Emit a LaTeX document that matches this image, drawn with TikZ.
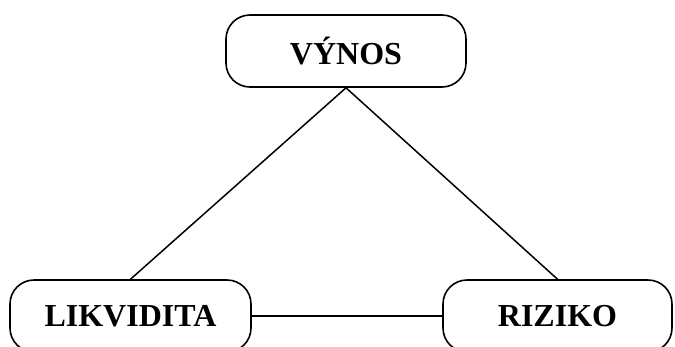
\documentclass[tikz,border=0pt]{standalone}
\usepackage{fontspec}
\setmainfont{Liberation Serif}
\begin{document}
\begin{tikzpicture}[x=1pt,y=-1pt,
  box/.style={draw, line width=1.6pt, rounded corners=24pt, inner sep=0pt,
    font=\fontsize{32}{36}\selectfont\bfseries, minimum height=72pt},
  link/.style={line width=1.5pt}]
\useasboundingbox (0,0) rectangle (675,346);
\clip (0,0) rectangle (675,346);
\node[box, minimum width=240pt] (v) at (346,51) {VÝNOS};
\node[box, minimum width=241pt] (l) at (130.5,316) {LIKVIDITA};
\node[box, minimum width=229pt] (r) at (557.5,316) {RIZIKO};
\draw[link] (v.south) -- (l.north);
\draw[link] (v.south) -- (r.north);
\draw[link] (l.east) -- (r.west);
\end{tikzpicture}
\end{document}
